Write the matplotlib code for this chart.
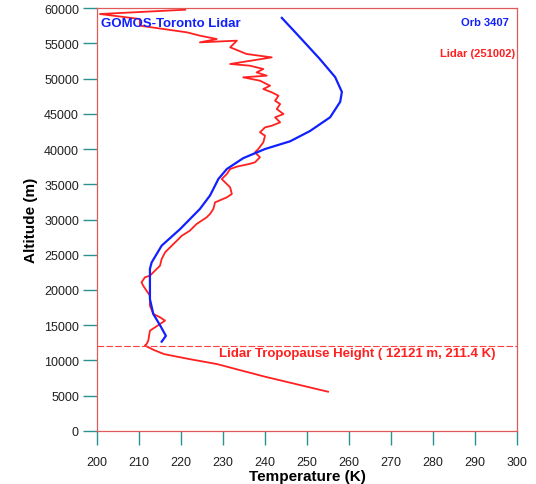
import matplotlib
matplotlib.use('Agg')
import matplotlib.pyplot as plt

plt.rcParams['font.family'] = ['Liberation Sans', 'DejaVu Sans']

# GOMOS profile (temperature K, altitude m)
gomos_temp = [215.4, 216.4, 215.0, 213.4, 212.6, 212.6, 213.0, 215.4, 219.8, 224.5, 226.9,
              228.9, 230.9, 234.8, 240.0, 246.0, 250.7, 255.5, 257.9, 258.3, 256.7, 253.0,
              247.6, 244.0]
gomos_alt = [12670, 13500, 15000, 16600, 18700, 23000, 23900, 26300, 28650, 31500, 33400,
             35750, 37160, 38700, 40000, 41100, 42550, 44500, 46700, 48100, 50200, 52800,
             56300, 58600]

# Toronto lidar profile
lidar_temp = [255.0, 240.0, 228.5, 222.0, 216.0, 213.5, 211.4, 211.8, 212.2, 212.6, 213.8,
              216.2, 215.0, 213.4, 212.6, 212.6, 211.0, 210.6, 211.4, 212.6, 215.0, 215.4,
              216.2, 217.4, 219.0, 220.2, 222.1, 223.7, 226.1, 226.9, 227.7, 228.1, 230.9,
              232.1, 231.7, 229.7, 230.9, 231.7, 233.3, 236.4, 237.6, 238.8, 237.6, 238.4,
              239.6, 240.0, 238.8, 240.0, 241.6, 243.6, 242.4, 244.4, 242.8, 243.6, 242.4,
              243.2, 241.6, 239.6, 241.2, 238.8, 234.8, 240.4, 238.0, 239.6, 236.4, 231.7,
              241.6, 235.6, 231.7, 233.3, 224.5, 228.5, 224.5, 221.4, 210.2, 210.2, 200.7,
              221.0]
lidar_alt = [5570, 7700, 9500, 10200, 10900, 11500, 12121, 12340, 12800, 14230, 14700,
             15650, 16130, 16600, 17770, 19190, 20600, 21090, 21800, 22030, 23450, 24400,
             25340, 26050, 26990, 27700, 28410, 29360, 30310, 30780, 31490, 32430, 33140,
             33620, 34560, 35740, 36450, 37160, 37500, 37900, 38110, 38820, 39530, 40000,
             40950, 41890, 42370, 43070, 43300, 43780, 44490, 44960, 45670, 46380, 46850,
             47560, 48040, 48510, 48980, 49690, 50170, 50400, 50870, 51350, 51820, 52060,
             53000, 53480, 54430, 55370, 55130, 55600, 56080, 56550, 57500, 58440, 59150,
             59760]

trop_alt = 12121
trop_temp = 211.4

xticks = list(range(200, 301, 10))
yticks = list(range(0, 60001, 5000))

fig = plt.figure(figsize=(5.36, 4.85), dpi=100)
ax = fig.add_axes([0.181, 0.1093, 0.7836, 0.8721])

ax.plot(lidar_temp, lidar_alt, color='#ff2020', lw=1.3)
ax.plot(gomos_temp, gomos_alt, color='#1020ff', lw=1.6)
ax.axhline(trop_alt, color='#ff4040', lw=0.8, ls=(0, (6, 2)))

ax.text(229, 10600, 'Lidar Tropopause Height ( %d m, %.1f K)' % (trop_alt, trop_temp),
        color='#ff2020', fontsize=9.5, fontweight='bold')
ax.text(201, 57500, 'GOMOS-Toronto Lidar', color='#1020ff', fontsize=9.5, fontweight='bold')
ax.text(298, 57600, 'Orb 3407', color='#1020ff', fontsize=8, fontweight='bold', ha='right')
ax.text(299.5, 53200, 'Lidar (251002)', color='#ff2020', fontsize=8, fontweight='bold', ha='right')

ax.set_xlim(200, 300)
ax.set_ylim(0, 60000)
ax.set_xticks(xticks)
ax.set_yticks(yticks)
ax.tick_params(direction='out', length=10, width=1, color='#2a9090', labelsize=9,
               labelcolor='#202020', pad=3)
ax.tick_params(axis='x', pad=8)
for s in ax.spines.values():
    s.set_color('#e05a5a')
    s.set_linewidth(0.9)
ax.set_xlabel('Temperature (K)', fontsize=11, fontweight='bold', labelpad=1)
ax.set_ylabel('Altitude (m)', fontsize=11, fontweight='bold', labelpad=4)

fig.savefig('out.png', dpi=100)
